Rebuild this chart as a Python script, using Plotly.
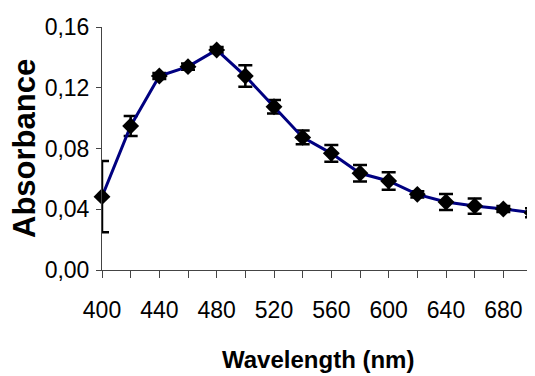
import plotly.graph_objects as go

wavelength = [400, 420, 440, 460, 480, 500, 520, 540, 560, 580, 600, 620, 640, 660, 680, 700]
absorbance = [0.0483, 0.0948, 0.1277, 0.1339, 0.1449, 0.1277, 0.1075, 0.0873, 0.0768, 0.0637,
              0.0586, 0.0498, 0.0448, 0.0421, 0.0402, 0.0377]
error = [0.0235, 0.0066, 0.0020, 0.0020, 0.0020, 0.0071, 0.0045, 0.0045, 0.0055, 0.0055,
         0.0057, 0.0020, 0.0053, 0.0050, 0.0020, 0.0030]

x_tickvals = list(range(400, 701, 20))
x_ticktext = [str(v) if (v - 400) % 40 == 0 and v < 700 else "" for v in x_tickvals]
y_tickvals = [0, 0.04, 0.08, 0.12, 0.16]
y_ticktext = ["0,00", "0,04", "0,08", "0,12", "0,16"]

FONT = "Liberation Sans, Arial"

# the page body has an 8px margin, so the figure is made 8px smaller and shifted
fig = go.Figure()
fig.add_trace(go.Scatter(
    x=wavelength, y=absorbance,
    mode="lines+markers",
    line=dict(color="#000080", width=3),
    marker=dict(symbol="diamond", size=13, color="black"),
    error_y=dict(type="data", array=error, visible=True, color="black", thickness=2.5, width=7),
    cliponaxis=False,
    showlegend=False,
))

fig.update_layout(
    width=527, height=368,
    margin=dict(l=94, r=3, t=19, b=106),
    plot_bgcolor="white", paper_bgcolor="white",
    font=dict(family=FONT, size=23, color="black"),
    xaxis=dict(
        range=[400, 700], tickvals=x_tickvals, ticktext=x_ticktext,
        showgrid=False, zeroline=False, showline=True, linecolor="#444", linewidth=1,
        ticks="outside", ticklen=7, tickcolor="#444", tickwidth=1,
        ticklabelstandoff=12,
        tickfont=dict(family=FONT, size=23, color="black"),
    ),
    yaxis=dict(
        range=[0, 0.16], tickvals=y_tickvals, ticktext=y_ticktext,
        showgrid=False, zeroline=False, showline=True, linecolor="#444", linewidth=1,
        ticks="outside", ticklen=5, tickcolor="#444", tickwidth=1,
        ticklabelstandoff=2,
        tickfont=dict(family=FONT, size=23, color="black"),
    ),
    annotations=[
        dict(text="<b>Wavelength (nm)</b>", xref="paper", yref="paper",
             x=(318 - 102) / 430, y=-(360 - 270) / 243, xanchor="center", yanchor="middle",
             showarrow=False, font=dict(family=FONT, size=24, color="black")),
        dict(text="<b>Absorbance</b>", xref="paper", yref="paper",
             x=-(102 - 24) / 430, y=(270 - 149) / 243, xanchor="center", yanchor="middle",
             textangle=-90, showarrow=False, font=dict(family=FONT, size=31, color="black")),
    ],
)

fig.write_html("out.html")
